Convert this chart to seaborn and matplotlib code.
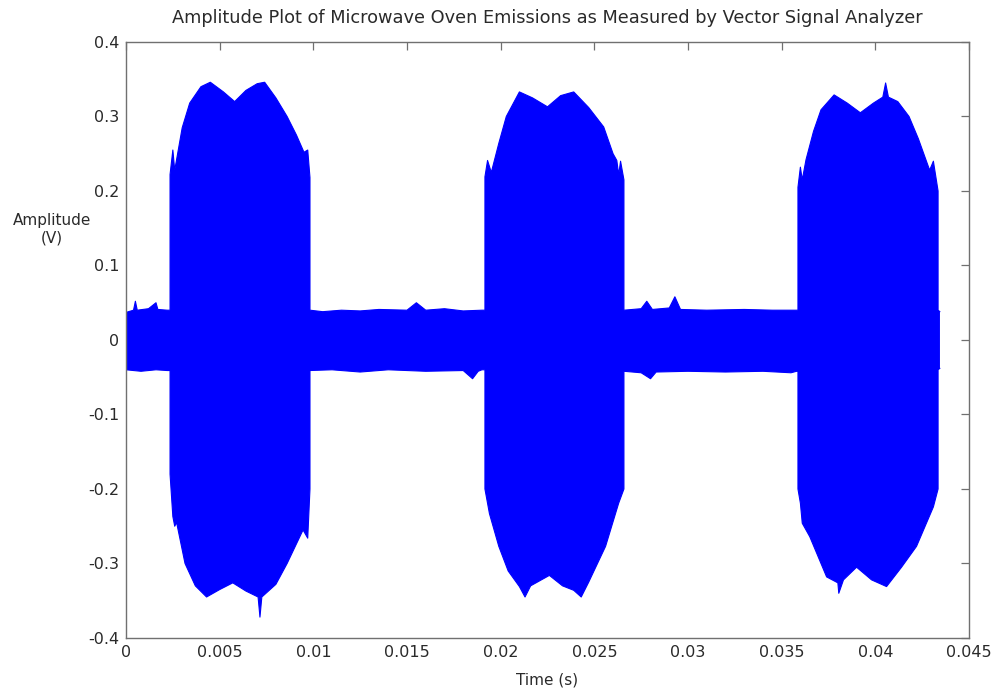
import numpy as np
import matplotlib
matplotlib.use("Agg")
import matplotlib.pyplot as plt
import seaborn as sns

# Upper envelope of the measured waveform (time in s, amplitude in V)
t_upper = [0.0, 0.0004, 0.0005, 0.0006, 0.0012, 0.0016, 0.0017, 0.0022,
           0.00235, 0.00235, 0.0025, 0.0026, 0.0030, 0.0034, 0.0040, 0.0045,
           0.0052, 0.0058, 0.0064, 0.0070, 0.0074, 0.0080, 0.0086, 0.0091,
           0.0095, 0.0097, 0.00982, 0.00982,
           0.0105, 0.0115, 0.0125, 0.0135, 0.0150, 0.0155, 0.0160, 0.0170,
           0.0180, 0.0190,
           0.01916, 0.01916, 0.0193, 0.0195, 0.0199, 0.0203, 0.0210, 0.0217,
           0.0225, 0.0232, 0.0239, 0.0247, 0.0255, 0.0260, 0.0262, 0.0263,
           0.0264, 0.02658, 0.02658,
           0.0275, 0.0278, 0.0281, 0.0290, 0.0293, 0.0296, 0.0310, 0.0330,
           0.0345, 0.0358,
           0.03587, 0.03587, 0.0360, 0.0361, 0.0363, 0.0367, 0.0371, 0.0378,
           0.0385, 0.0392, 0.0399, 0.0404, 0.04055, 0.0407, 0.0412, 0.0418,
           0.0423, 0.0427, 0.0429, 0.0431, 0.04335, 0.04335, 0.04345]
v_upper = [0.037, 0.040, 0.052, 0.040, 0.042, 0.050, 0.041, 0.040,
           0.040, 0.222, 0.255, 0.228, 0.285, 0.318, 0.340, 0.346,
           0.333, 0.320, 0.335, 0.344, 0.346, 0.325, 0.300, 0.275,
           0.252, 0.255, 0.218, 0.040,
           0.038, 0.040, 0.039, 0.041, 0.040, 0.050, 0.040, 0.042,
           0.039, 0.040,
           0.040, 0.219, 0.241, 0.225, 0.264, 0.300, 0.333, 0.325,
           0.313, 0.328, 0.333, 0.312, 0.286, 0.250, 0.241, 0.222,
           0.240, 0.215, 0.040,
           0.042, 0.052, 0.041, 0.043, 0.058, 0.041, 0.040, 0.041,
           0.040, 0.040,
           0.040, 0.205, 0.232, 0.215, 0.242, 0.280, 0.309, 0.329,
           0.318, 0.305, 0.318, 0.326, 0.345, 0.326, 0.320, 0.300,
           0.270, 0.242, 0.228, 0.240, 0.200, 0.040, 0.038]

# Lower envelope of the measured waveform
t_lower = [0.0, 0.0008, 0.0016, 0.0022,
           0.00235, 0.00235, 0.0025, 0.0026, 0.0027, 0.00315, 0.0037, 0.0043,
           0.0050, 0.0057, 0.0064, 0.00705, 0.00715, 0.00725, 0.0080, 0.0086,
           0.00945, 0.0097, 0.00982, 0.00982,
           0.0110, 0.0125, 0.0140, 0.0160, 0.0180, 0.0185, 0.0188, 0.0190,
           0.01916, 0.01916, 0.0194, 0.0199, 0.0204, 0.0210, 0.0213, 0.0216,
           0.0226, 0.0233, 0.0239, 0.0243, 0.0247, 0.0256, 0.0263, 0.02658,
           0.02658,
           0.0275, 0.0280, 0.0283, 0.0300, 0.0320, 0.0340, 0.0355, 0.0358,
           0.03587, 0.03587, 0.0360, 0.0361, 0.0365, 0.0374, 0.0380, 0.03805,
           0.0383, 0.0390, 0.0398, 0.0406, 0.0414, 0.0422, 0.0431, 0.04335,
           0.04335, 0.04345]
v_lower = [-0.040, -0.042, -0.040, -0.041,
           -0.041, -0.180, -0.237, -0.250, -0.245, -0.300, -0.330, -0.345,
           -0.335, -0.326, -0.337, -0.345, -0.372, -0.345, -0.328, -0.300,
           -0.255, -0.266, -0.200, -0.041,
           -0.040, -0.043, -0.040, -0.042, -0.041, -0.052, -0.042, -0.040,
           -0.040, -0.200, -0.233, -0.277, -0.310, -0.331, -0.345, -0.330,
           -0.316, -0.330, -0.336, -0.345, -0.325, -0.277, -0.219, -0.200,
           -0.042,
           -0.044, -0.052, -0.043, -0.042, -0.043, -0.042, -0.044, -0.042,
           -0.042, -0.200, -0.219, -0.246, -0.264, -0.318, -0.326, -0.340,
           -0.322, -0.305, -0.322, -0.331, -0.305, -0.277, -0.224, -0.200,
           -0.040, -0.038]

x_ticks = [0, 0.005, 0.01, 0.015, 0.02, 0.025, 0.03, 0.035, 0.04, 0.045]
x_tick_labels = ["0", "0.005", "0.01", "0.015", "0.02", "0.025", "0.03",
                 "0.035", "0.04", "0.045"]
y_ticks = [-0.4, -0.3, -0.2, -0.1, 0, 0.1, 0.2, 0.3, 0.4]
y_tick_labels = ["-0.4", "-0.3", "-0.2", "-0.1", "0", "0.1", "0.2", "0.3", "0.4"]

sns.set_style("white")
plt.rcParams["font.family"] = ["DejaVu Sans"]

BLUE = "#0000FF"
AXIS_GREY = "#707070"
TEXT = "#2a2a2a"

fig = plt.figure(figsize=(9.97, 7.0), dpi=100)
ax = fig.add_axes([0.1264, 0.0886, 0.8455, 0.8514])

# Signal band: one closed outline running along the upper envelope and
# back along the lower one
outline_t = list(t_upper) + list(t_lower[::-1])
outline_v = list(v_upper) + list(v_lower[::-1])
ax.fill(outline_t, outline_v, color=BLUE, linewidth=0)
sns.lineplot(x=t_upper, y=v_upper, ax=ax, color=BLUE, linewidth=0.8,
             estimator=None, sort=False)
sns.lineplot(x=t_lower, y=v_lower, ax=ax, color=BLUE, linewidth=0.8,
             estimator=None, sort=False)

ax.set_xlim(0, 0.045)
ax.set_ylim(-0.4, 0.4)
ax.set_xticks(x_ticks)
ax.set_xticklabels(x_tick_labels)
ax.set_yticks(y_ticks)
ax.set_yticklabels(y_tick_labels)

for side in ["left", "right", "top", "bottom"]:
    ax.spines[side].set_visible(True)
    ax.spines[side].set_color(AXIS_GREY)
    ax.spines[side].set_linewidth(1.0)

ax.tick_params(axis="both", which="major", direction="in", length=6,
               width=0.9, color=AXIS_GREY, labelsize=11.5, labelcolor=TEXT,
               top=True, right=True, pad=5)

ax.set_title("Amplitude Plot of Microwave Oven Emissions as Measured by "
             "Vector Signal Analyzer", fontsize=12.8, color=TEXT, pad=14)
ax.set_xlabel("Time (s)", fontsize=11, color=TEXT, labelpad=9)
ax.set_ylabel("Amplitude\n(V)", fontsize=11, color=TEXT, rotation=0,
              ha="center", va="center", linespacing=1.25)
ax.yaxis.set_label_coords(-0.088, 0.686)

fig.savefig("out.png", dpi=100, facecolor="white")
